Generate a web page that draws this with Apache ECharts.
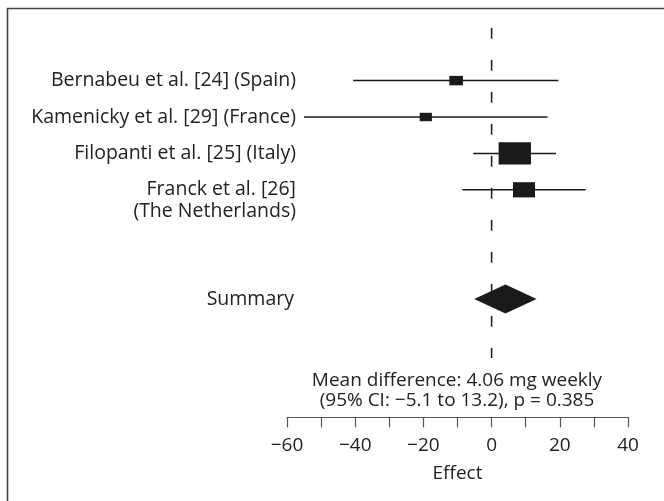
<!DOCTYPE html>
<html>
<head>
<meta charset="utf-8">
<script src="https://cdn.jsdelivr.net/npm/echarts@6/dist/echarts.min.js"></script>
<style>html,body{margin:0;padding:0;background:#fff;}#chart{width:664px;height:501px;}</style>
</head>
<body>
<div id="chart"></div>
<script>
// ---- data ----
const studies = ['Bernabeu et al. [24] (Spain)', 'Kamenicky et al. [29] (France)', 'Filopanti et al. [25] (Italy)', 'Franck et al. [26]\n(The Netherlands)'];
const studyRows = [1, 2, 3, 4];
const estimates = [-10.4, -19.3, 6.8, 9.5];
const lowerCI = [-40.6, -55.0, -5.4, -8.6];
const upperCI = [19.6, 16.4, 18.9, 27.6];
const weights = [10, 8, 56, 26];
const summaryLabel = 'Summary';
const summaryRow = 7;
const summaryValues = [-5.1, 4.06, 13.2]; // lower, estimate, upper
const xTickLabels = [-60, -40, -20, 0, 20, 40];
const noteLines = ['Mean difference: 4.06 mg weekly', '(95% CI: \u22125.1 to 13.2), p = 0.385'];
const nullLine = [[0, -0.45], [0, 8.62]];

const FONT = '"Open Sans", "Noto Sans", sans-serif';
const FS = 19;
const INK = '#1a1a1a';
const TXT = '#222';

const chart = echarts.init(document.getElementById('chart'), null, {renderer: 'canvas'});

const studyData = studies.map((s, i) => [estimates[i], studyRows[i], lowerCI[i], upperCI[i], weights[i], i]);

const option = {
  animation: false,
  backgroundColor: '#fff',
  grid: {left: 287, right: 36, top: 26, height: 391.3, containLabel: false},
  xAxis: {
    type: 'value', min: -60, max: 40, interval: 10, position: 'bottom',
    name: 'Effect', nameLocation: 'middle', nameGap: 47,
    nameTextStyle: {fontFamily: FONT, fontSize: FS, color: TXT},
    axisLine: {show: true, onZero: false, lineStyle: {color: '#555', width: 1.2}},
    axisTick: {show: true, inside: false, length: 10, lineStyle: {color: '#555', width: 1.2}},
    axisLabel: {
      margin: 19, fontFamily: FONT, fontSize: FS, color: TXT,
      formatter: v => xTickLabels.indexOf(v) >= 0 ? String(v).replace('-', '\u2212') : ''
    },
    splitLine: {show: false}
  },
  yAxis: {
    type: 'value', min: -0.5, max: 10.25, inverse: true, show: false
  },
  graphic: [
    {type: 'rect', shape: {x: 7.5, y: 8.5, width: 720, height: 600}, style: {fill: 'none', stroke: '#444', lineWidth: 1.6}, silent: true},
    {type: 'text', x: 457, y: 381, style: {text: noteLines[0], fontFamily: FONT, fontSize: FS, fill: TXT, textAlign: 'center', textVerticalAlign: 'middle'}},
    {type: 'text', x: 457, y: 401, style: {text: noteLines[1], fontFamily: FONT, fontSize: FS, fill: TXT, textAlign: 'center', textVerticalAlign: 'middle'}}
  ],
  series: [
    {
      type: 'line', data: nullLine, symbol: 'none', clip: false,
      lineStyle: {color: INK, width: 1.5, type: [11, 21]}, z: 1
    },
    {
      type: 'custom', z: 3, clip: false,
      data: studyData,
      encode: {x: [0, 2, 3], y: 1},
      renderItem: function (params, api) {
        const est = api.value(0), row = api.value(1), lo = api.value(2), hi = api.value(3), w = api.value(4);
        const idx = api.value(5);
        const pLo = api.coord([lo, row]), pHi = api.coord([hi, row]), pE = api.coord([est, row]);
        const bw = 4.32 * Math.sqrt(w), bh = bw / 1.45;
        return {
          type: 'group',
          children: [
            {type: 'line', shape: {x1: pLo[0], y1: pLo[1], x2: pHi[0], y2: pHi[1]}, style: {stroke: INK, lineWidth: 1.5}},
            {type: 'rect', shape: {x: pE[0] - bw / 2, y: pE[1] - bh / 2, width: bw, height: bh}, style: {fill: INK}},
            {type: 'text', x: 296, y: pE[1] - 11, style: {text: studies[idx], fontFamily: FONT, fontSize: 19.5, lineHeight: 22, fill: TXT, textAlign: 'right', textVerticalAlign: 'top'}}
          ]
        };
      }
    },
    {
      type: 'custom', z: 3, clip: false,
      data: [[summaryValues[1], summaryRow, summaryValues[0], summaryValues[2]]],
      encode: {x: [0, 2, 3], y: 1},
      renderItem: function (params, api) {
        const est = api.value(0), row = api.value(1), lo = api.value(2), hi = api.value(3);
        const pLo = api.coord([lo, row]), pHi = api.coord([hi, row]);
        const pTop = api.coord([est, row - 0.4]), pBot = api.coord([est, row + 0.4]);
        return {
          type: 'group',
          children: [
            {type: 'polygon', shape: {points: [pLo, pTop, pHi, pBot]}, style: {fill: INK}},
            {type: 'text', x: 294, y: pLo[1], style: {text: summaryLabel, fontFamily: FONT, fontSize: 19.5, fill: TXT, textAlign: 'right', textVerticalAlign: 'middle'}}
          ]
        };
      }
    }
  ]
};
chart.setOption(option);
</script>
</body>
</html>
